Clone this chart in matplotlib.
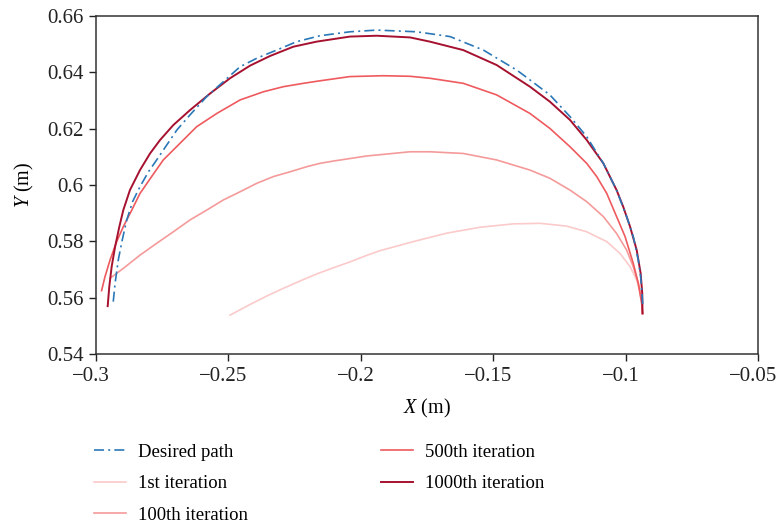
import matplotlib
matplotlib.use("Agg")
import matplotlib.pyplot as plt
from matplotlib.transforms import ScaledTranslation

plt.rcParams['font.family'] = ['Liberation Serif', 'DejaVu Serif']
plt.rcParams['mathtext.fontset'] = 'custom'
plt.rcParams['mathtext.it'] = 'Liberation Serif:italic'
plt.rcParams['mathtext.rm'] = 'Liberation Serif'

# Desired path
desired_x = [-0.2935, -0.2928, -0.2916, -0.2901, -0.2884, -0.2862, -0.2834, -0.2802,
             -0.2771, -0.2733, -0.2695, -0.2645, -0.2582, -0.2519, -0.2456, -0.2393,
             -0.2318, -0.2242, -0.2154, -0.2041, -0.1940, -0.1789, -0.1663, -0.1537,
             -0.1411, -0.1361, -0.1286, -0.1210, -0.1147, -0.1084, -0.1034, -0.0996,
             -0.0971, -0.0952, -0.0943, -0.0937, -0.0935]
desired_y = [0.5586, 0.5651, 0.5734, 0.5805, 0.5876, 0.5941, 0.5994, 0.6047,
             0.6089, 0.6142, 0.6195, 0.6249, 0.6314, 0.6367, 0.6420, 0.6450,
             0.6479, 0.6509, 0.6530, 0.6544, 0.6550, 0.6544, 0.6527, 0.6479,
             0.6408, 0.6373, 0.6320, 0.6243, 0.6172, 0.6077, 0.5982, 0.5888,
             0.5817, 0.5734, 0.5674, 0.5603, 0.5570]

# 1st iteration
it1_x = [-0.2494, -0.2418, -0.2355, -0.2293, -0.2230, -0.2167, -0.2104, -0.2041,
         -0.1978, -0.1927, -0.1802, -0.1676, -0.1550, -0.1424, -0.1323, -0.1222,
         -0.1147, -0.1071, -0.1021, -0.0983, -0.0958, -0.0948, -0.0940, -0.0936]
it1_y = [0.5538, 0.5576, 0.5606, 0.5633, 0.5659, 0.5684, 0.5706, 0.5727,
         0.5750, 0.5767, 0.5799, 0.5829, 0.5850, 0.5862, 0.5864, 0.5854,
         0.5834, 0.5799, 0.5757, 0.5710, 0.5663, 0.5627, 0.5585, 0.5544]

# 100th iteration
it100_x = [-0.2947, -0.2897, -0.2834, -0.2771, -0.2708, -0.2645, -0.2582, -0.2519,
           -0.2456, -0.2393, -0.2330, -0.2267, -0.2204, -0.2154, -0.2104, -0.1978,
           -0.1814, -0.1739, -0.1613, -0.1487, -0.1361, -0.1286, -0.1210, -0.1147,
           -0.1084, -0.1034, -0.0996, -0.0971, -0.0952, -0.0939, -0.0936]
it100_y = [0.5669, 0.5704, 0.5751, 0.5793, 0.5834, 0.5876, 0.5911, 0.5947,
           0.5976, 0.6006, 0.6030, 0.6047, 0.6065, 0.6077, 0.6085, 0.6103,
           0.6118, 0.6118, 0.6112, 0.6089, 0.6053, 0.6024, 0.5982, 0.5941,
           0.5888, 0.5828, 0.5769, 0.5710, 0.5651, 0.5592, 0.5544]

# 500th iteration
it500_x = [-0.2979, -0.2966, -0.2947, -0.2922, -0.2897, -0.2865, -0.2834, -0.2790,
           -0.2746, -0.2683, -0.2620, -0.2544, -0.2456, -0.2368, -0.2293, -0.2217,
           -0.2154, -0.2041, -0.1915, -0.1814, -0.1739, -0.1613, -0.1487, -0.1361,
           -0.1286, -0.1210, -0.1147, -0.1109, -0.1071, -0.1034, -0.1002, -0.0971,
           -0.0952, -0.0939, -0.0936]
it500_y = [0.5625, 0.5675, 0.5734, 0.5799, 0.5852, 0.5911, 0.5970, 0.6030,
           0.6089, 0.6148, 0.6207, 0.6254, 0.6302, 0.6331, 0.6349, 0.6361,
           0.6370, 0.6385, 0.6388, 0.6386, 0.6379, 0.6361, 0.6320, 0.6254,
           0.6201, 0.6136, 0.6077, 0.6030, 0.5970, 0.5888, 0.5817, 0.5722,
           0.5651, 0.5580, 0.5544]

# 1000th iteration
it1000_x = [-0.2956, -0.2950, -0.2941, -0.2928, -0.2912, -0.2897, -0.2872, -0.2834,
            -0.2796, -0.2758, -0.2708, -0.2645, -0.2569, -0.2494, -0.2418, -0.2343,
            -0.2255, -0.2167, -0.2041, -0.1940, -0.1814, -0.1739, -0.1613, -0.1487,
            -0.1361, -0.1286, -0.1210, -0.1147, -0.1084, -0.1034, -0.1009, -0.0983,
            -0.0958, -0.0943, -0.0937, -0.0936]
it1000_y = [0.5570, 0.5639, 0.5710, 0.5781, 0.5852, 0.5911, 0.5982, 0.6053,
            0.6112, 0.6160, 0.6213, 0.6266, 0.6325, 0.6379, 0.6424, 0.6458,
            0.6491, 0.6509, 0.6527, 0.6530, 0.6524, 0.6509, 0.6479, 0.6426,
            0.6349, 0.6296, 0.6231, 0.6160, 0.6077, 0.5982, 0.5923, 0.5852,
            0.5769, 0.5686, 0.5615, 0.5544]

x_ticks = [-0.3, -0.25, -0.2, -0.15, -0.1, -0.05]
x_tick_labels = ['\u22120.3', '\u22120.25', '\u22120.2', '\u22120.15', '\u22120.1', '\u22120.05']
y_ticks = [0.54, 0.56, 0.58, 0.6, 0.62, 0.64, 0.66]
y_tick_labels = ['0.54', '0.56', '0.58', '0.6', '0.62', '0.64', '0.66']

fig = plt.figure(figsize=(7.77, 5.25), dpi=100)
ax = fig.add_axes([0.1236, 0.3257, 0.8519, 0.6438])

ax.plot(desired_x, desired_y, color='#2b78b8', lw=1.2, ls=(0, (6, 2.5, 1.2, 2.5)),
        label='Desired path', zorder=6)
ax.plot(it1_x, it1_y, color='#fbcaca', lw=1.2, label='1st iteration')
ax.plot(it100_x, it100_y, color='#f59a9a', lw=1.2, label='100th iteration')
ax.plot(it500_x, it500_y, color='#ee5a5e', lw=1.2, label='500th iteration')
ax.plot(it1000_x, it1000_y, color='#a6112f', lw=1.4, label='1000th iteration', zorder=5)

ax.set_xlim(-0.3, -0.05)
ax.set_ylim(0.54, 0.66)
ax.set_xticks(x_ticks)
ax.set_xticklabels(x_tick_labels)
ax.set_yticks(y_ticks)
ax.set_yticklabels(y_tick_labels)
ax.tick_params(direction='out', length=5, width=1.0, labelsize=15, colors='#222222', pad=4)
offset = ScaledTranslation(-5 / 100, 0, fig.dpi_scale_trans)
for lab in ax.get_xticklabels():
    lab.set_transform(lab.get_transform() + offset)
for s in ax.spines.values():
    s.set_linewidth(1.1)
    s.set_color('#333333')

ax.set_xlabel(r'$\mathit{X}$ (m)', fontsize=14.5, labelpad=8)
ax.set_ylabel(r'$\mathit{Y}$ (m)', fontsize=14.5, labelpad=8)

fig.legend(loc='upper left', bbox_to_anchor=(0.099, 0.187), ncol=2, frameon=False,
           fontsize=13.5, handlelength=1.7, handletextpad=0.64, columnspacing=7.1,
           labelspacing=0.76)

fig.savefig('out.png', dpi=100)
